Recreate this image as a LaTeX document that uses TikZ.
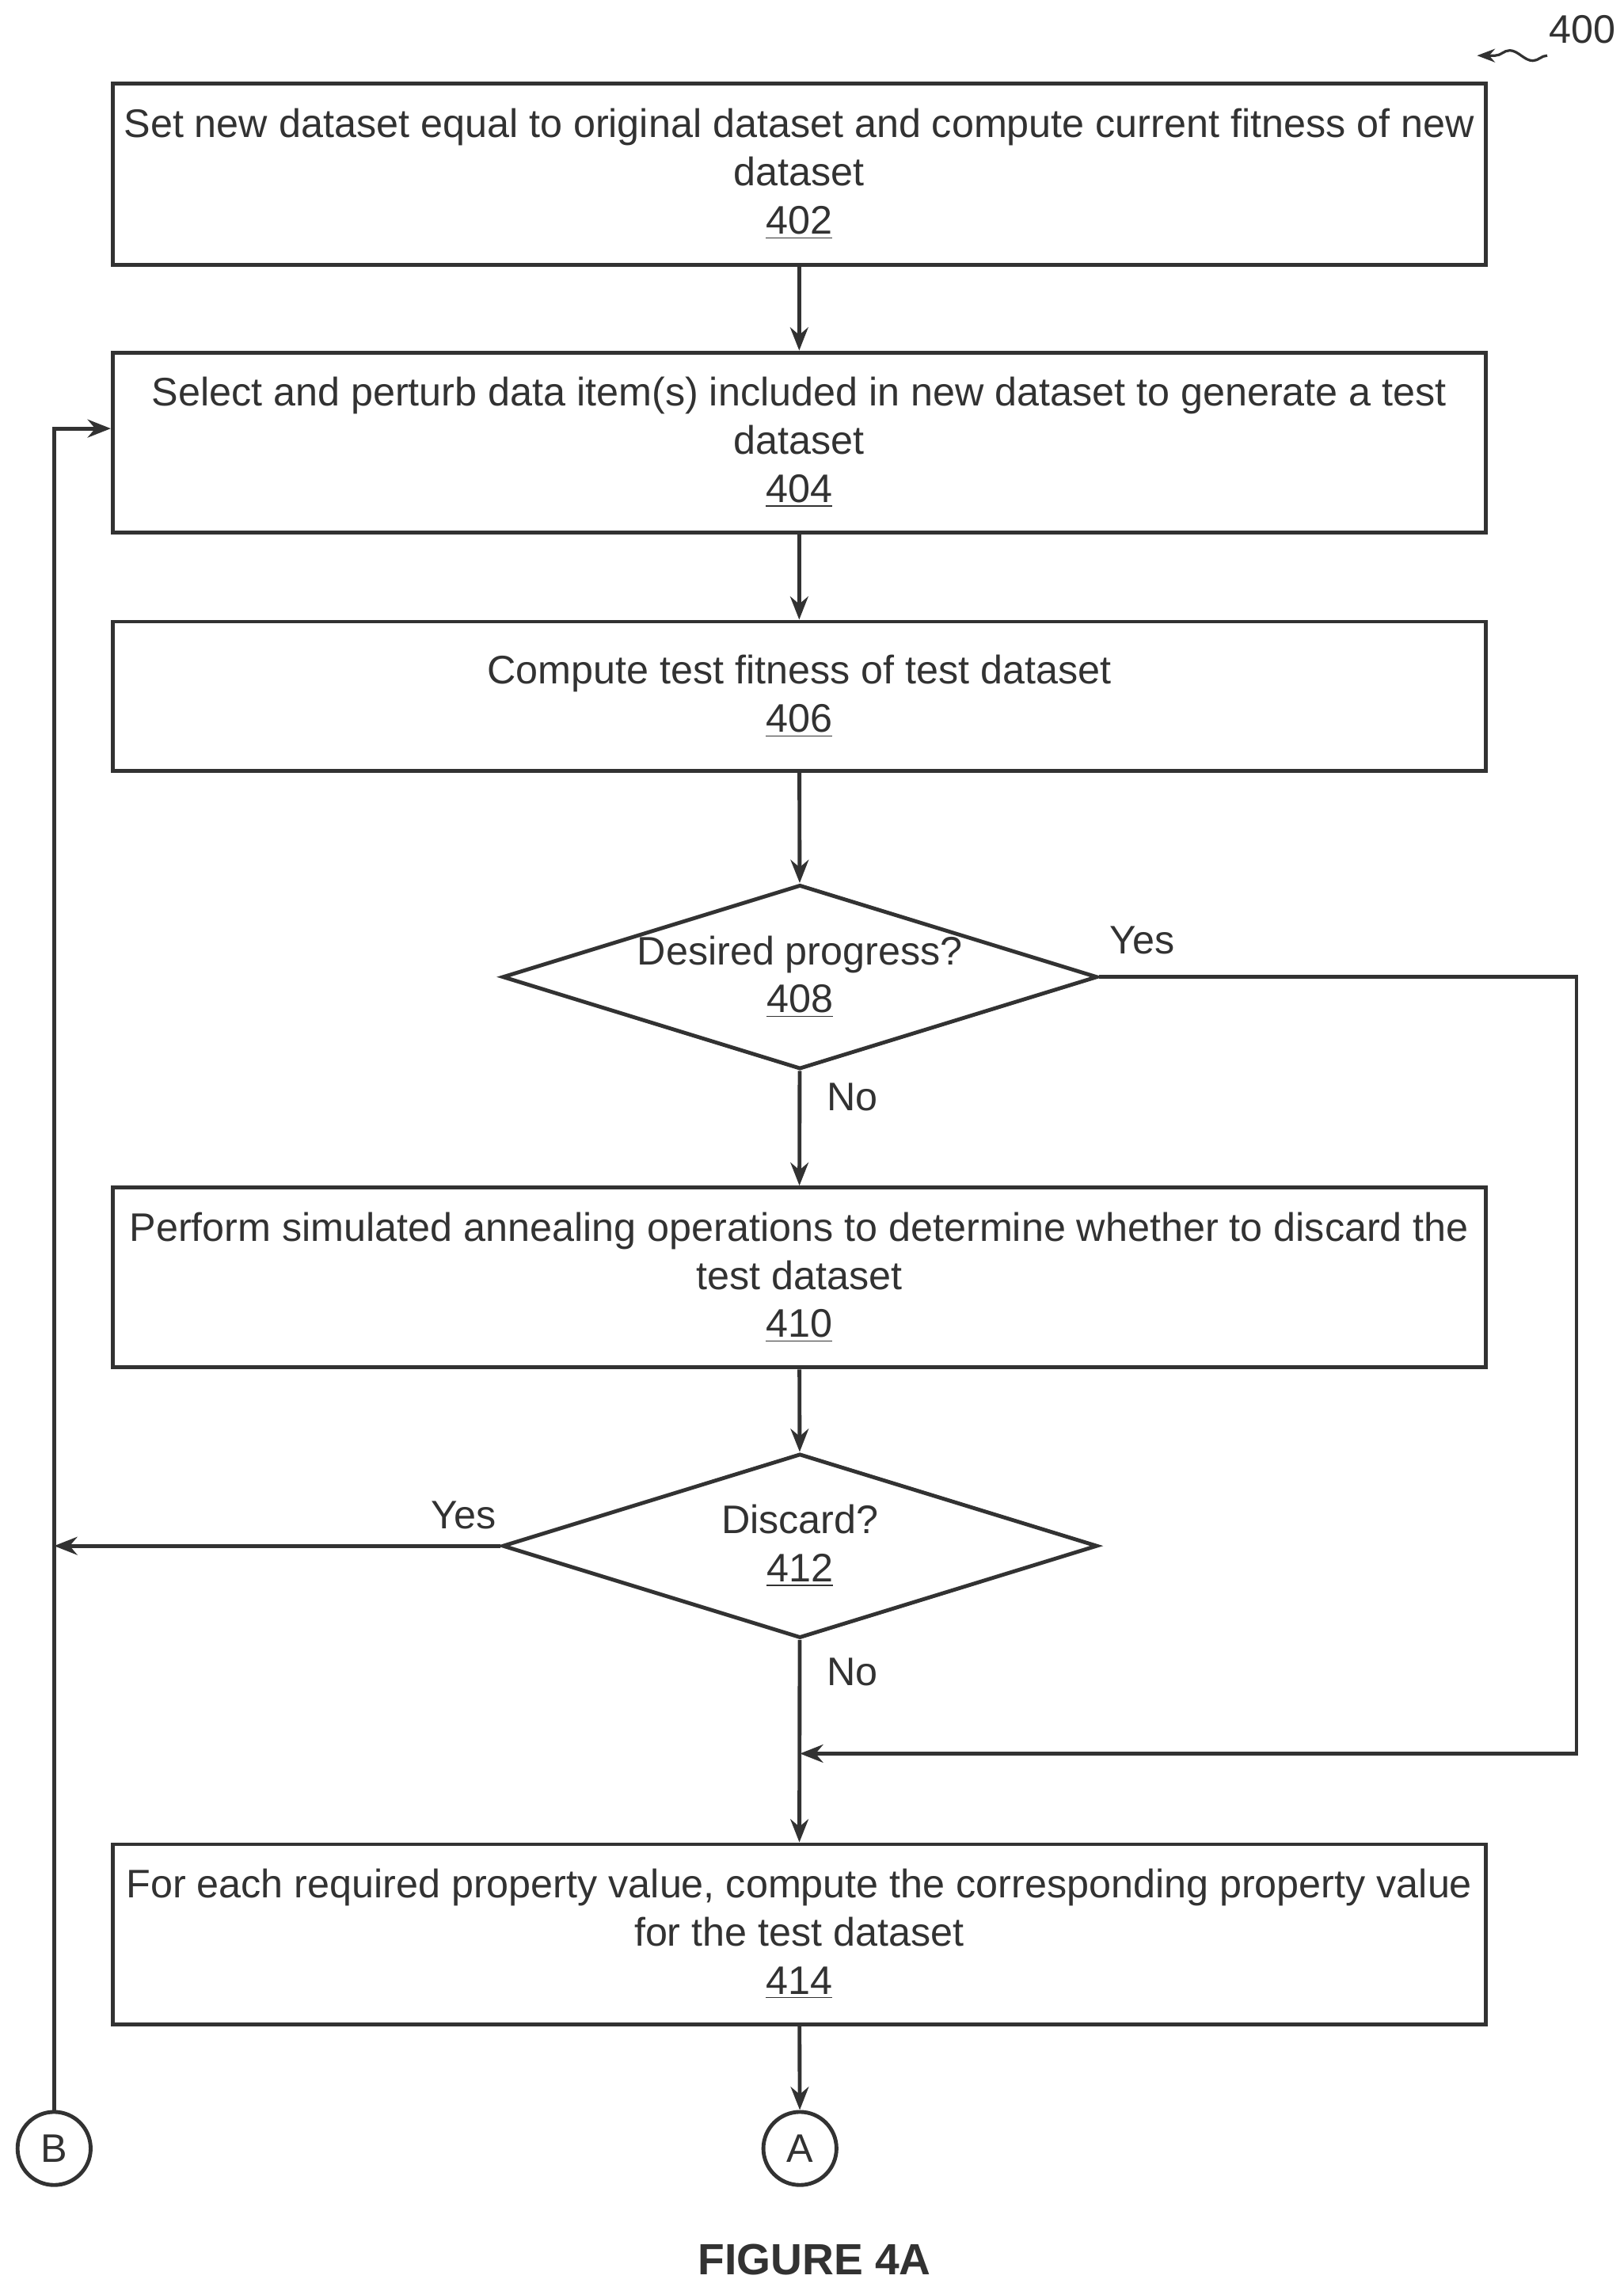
\documentclass[tikz,border=0pt]{standalone}
\usepackage{fontspec}
\setmainfont{Liberation Sans}
\usetikzlibrary{arrows.meta,shapes.geometric,decorations.pathmorphing}
\definecolor{ink}{RGB}{50,50,50}
\begin{document}
\begin{tikzpicture}[x=0.02cm,y=-0.02cm,
  every node/.style={text=ink,font=\fontsize{15.5}{18.7}\selectfont},
  line/.style={draw=ink,line width=1.5pt},
  arr/.style={line,-{Stealth[length=9pt,width=7pt]}},
  box/.style={line,minimum width=18.78cm,align=center,inner sep=0pt},
  dia/.style={line,diamond,aspect=3.23,minimum width=8.14cm,minimum height=2.52cm,inner sep=0pt,align=center},
  circ/.style={line,circle,minimum size=1.0cm,inner sep=0pt}]
\useasboundingbox (0,0) rectangle (1110,1561);
\node[box,minimum height=2.48cm] (b402) at (546.5,119) {Set new dataset equal to original dataset and compute current fitness of new\\dataset\\\underline{402}};
\node[box,minimum height=2.46cm] (b404) at (546.5,302.5) {Select and perturb data item(s) included in new dataset to generate a test\\dataset\\\underline{404}};
\node[box,minimum height=2.04cm] (b406) at (546.5,476) {Compute test fitness of test dataset\\\underline{406}};
\node[dia] (d408) at (547,668) {Desired progress?\\\underline{408}};
\node[box,minimum height=2.46cm] (b410) at (546.5,873.5) {Perform simulated annealing operations to determine whether to discard the\\test dataset\\\underline{410}};
\node[dia] (d412) at (547,1057) {Discard?\\\underline{412}};
\node[box,minimum height=2.46cm] (b414) at (546.5,1322.5) {For each required property value, compute the corresponding property value\\for the test dataset\\\underline{414}};
\node[circ] (cB) at (37,1469) {B};
\node[circ] (cA) at (547,1469) {A};
\node[font=\bfseries\fontsize{17}{20}\selectfont] (fig) at (557,1545) {FIGURE 4A};
\node (n400) at (1082,20) {400};
\node (y1) at (781,643) {Yes};
\node (y2) at (317,1036) {Yes};
\node (no1) at (583,750) {No};
\node (no2) at (583,1143) {No};
\coordinate (sq) at (1058,38);
\draw[line,line width=1pt,-{Stealth[length=7pt]},decorate,decoration={snake,amplitude=2pt,segment length=18pt,post length=6pt}] (sq) -- (1010,38);
\draw[arr] (b402) -- (b404);
\draw[arr] (b404) -- (b406);
\draw[arr] (b406) -- (d408);
\draw[arr] (d408) -- (b410);
\draw[arr] (b410) -- (d412);
\coordinate (m) at (547,1199);
\draw[arr] (d412) -- (b414);
\draw[arr] (d408.east) -- (1078,668) -- (1078,1199) -- (m);
\draw[arr] (d412.west) -- (37,1057);
\draw[arr] (cB) -- (37,293) -- (b404.west |- 0,293);
\draw[arr] (b414) -- (cA);
\end{tikzpicture}
\end{document}
